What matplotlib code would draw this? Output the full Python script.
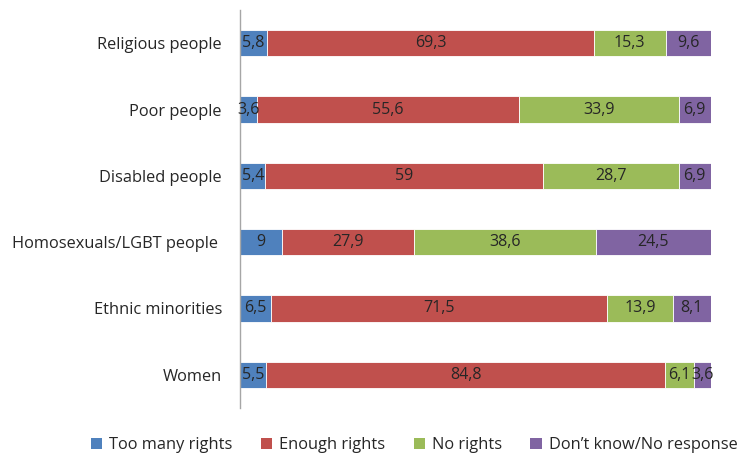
import matplotlib
matplotlib.use("Agg")
import matplotlib.pyplot as plt
from matplotlib.patches import Patch

plt.rcParams['font.family'] = ['Open Sans', 'DejaVu Sans']

categories = ["Religious people", "Poor people", "Disabled people",
              "Homosexuals/LGBT people ", "Ethnic minorities", "Women"]
too_many = [5.8, 3.6, 5.4, 9, 6.5, 5.5]
enough = [69.3, 55.6, 59, 27.9, 71.5, 84.8]
no_rights = [15.3, 33.9, 28.7, 38.6, 13.9, 6.1]
dont_know = [9.6, 6.9, 6.9, 24.5, 8.1, 3.6]
series_names = ["Too many rights", "Enough rights", "No rights", "Don\u2019t know/No response"]
colors = ["#4F81BD", "#C0504D", "#9BBB59", "#8064A2"]

fig = plt.figure(figsize=(7.4, 4.55), dpi=100)
ax = fig.add_axes([240/740, 47/455, 471/740, 398/455])

ypos = list(range(len(categories)))
left = [0.0] * len(categories)
for vals, col in zip([too_many, enough, no_rights, dont_know], colors):
    ax.barh(ypos, vals, left=left, height=0.4, color=col,
            edgecolor="white", linewidth=0.6)
    for y, l, v in zip(ypos, left, vals):
        txt = ("%g" % v).replace(".", ",")
        ax.text(l + v / 2, y, txt, ha="center", va="center",
                fontsize=11.5, color="#262626")
    left = [a + b for a, b in zip(left, vals)]

ax.set_xlim(0, 100)
ax.set_ylim(len(categories) - 0.5, -0.5)
ax.set_yticks(ypos)
ax.set_yticklabels(categories, fontsize=11.8, color="#262626")
ax.tick_params(axis="y", length=0, pad=13)
ax.set_xticks([])
for s in ["top", "right", "bottom"]:
    ax.spines[s].set_visible(False)
ax.spines["left"].set_color("#A6A6A6")
ax.spines["left"].set_linewidth(1.0)

handles = [Patch(facecolor=c, edgecolor="none") for c in colors]
fig.legend(handles, series_names, loc="center", bbox_to_anchor=(414/740, 1 - 445/455),
           ncol=4, frameon=False, fontsize=11.8, handlelength=0.7, handleheight=0.7,
           handletextpad=0.4, columnspacing=1.75, labelcolor="#262626",
           borderpad=0.0, borderaxespad=0.0)

fig.savefig("out.png", dpi=100)
